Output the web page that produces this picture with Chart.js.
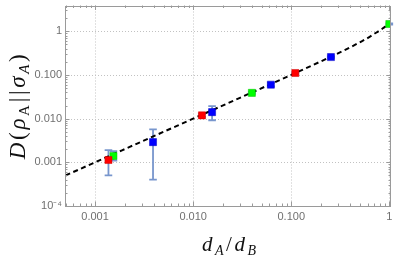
<!DOCTYPE html>
<html><head><meta charset="utf-8">
<script src="https://cdn.jsdelivr.net/npm/chart.js@4"></script>
<style>html,body{margin:0;padding:0;background:#fff}canvas{display:block}</style>
</head><body>
<canvas id="c" width="399" height="260"></canvas>
<script>
// ---- data ----
const redX = [0.00137, 0.0123, 0.11];
const redY = [0.00113, 0.0119, 0.111];
const redLo = [0.0005, 0.0110, 0.106];
const redHi = [0.0019, 0.0129, 0.116];
const greenX = [0.00154, 0.0397, 1.0];
const greenY = [0.0014, 0.039, 1.47];
const greenLo = [0.0011, 0.037, 1.42];
const greenHi = [0.0018, 0.041, 1.52];
const blueX = [0.0039, 0.0156, 0.062, 0.254];
const blueY = [0.0029, 0.0141, 0.060, 0.257];
const blueLo = [0.0004, 0.0092, 0.055, 0.247];
const blueHi = [0.0057, 0.0193, 0.066, 0.267];
const curveX = [0.0005, 0.001, 0.003, 0.01, 0.03, 0.1, 0.25, 0.4, 0.5, 0.6, 0.7, 0.8, 0.9, 1.0];
const curveY = [0.0005, 0.001, 0.003, 0.01, 0.03, 0.1005, 0.258, 0.43, 0.56, 0.70, 0.87, 1.05, 1.26, 1.47];
const xTickValues = [0.001, 0.01, 0.1, 1];
const xTickLabels = ['0.001', '0.010', '0.100', '1'];
const yTickValues = [0.0001, 0.001, 0.01, 0.1, 1];
const yTickLabels = ['10\u207B\u2074', '0.001', '0.010', '0.100', '1'];
const xRange = [0.000494, 1.04];
const yRange = [0.0001, 3.9];

const toPts = (xs, ys) => xs.map((v, i) => ({x: v, y: ys[i]}));

const errSeries = [
  {X: redX, lo: redLo, hi: redHi},
  {X: greenX, lo: greenLo, hi: greenHi},
  {X: blueX, lo: blueLo, hi: blueHi}
];

const decorPlugin = {
  id: 'decor',
  beforeDatasetsDraw(chart) {
    const {ctx, chartArea: a, scales: {x, y}} = chart;
    ctx.save();
    ctx.strokeStyle = '#c2c2c2';
    ctx.lineWidth = 1;
    ctx.setLineDash([1, 2]);
    xTickValues.forEach(v => {
      const px = Math.round(x.getPixelForValue(v)) + 0.5;
      ctx.beginPath(); ctx.moveTo(px, a.top); ctx.lineTo(px, a.bottom); ctx.stroke();
    });
    yTickValues.forEach(v => {
      const py = Math.round(y.getPixelForValue(v)) + 0.5;
      ctx.beginPath(); ctx.moveTo(a.left, py); ctx.lineTo(a.right, py); ctx.stroke();
    });
    ctx.setLineDash([]);
    // error bars
    ctx.strokeStyle = 'rgb(120,150,205)';
    ctx.lineWidth = 1.8;
    errSeries.forEach(s => {
      s.X.forEach((xv, i) => {
        const px = x.getPixelForValue(xv);
        const t = y.getPixelForValue(s.hi[i]);
        const b = y.getPixelForValue(s.lo[i]);
        ctx.beginPath();
        ctx.moveTo(px, t); ctx.lineTo(px, b);
        ctx.moveTo(px - 3.8, t); ctx.lineTo(px + 3.8, t);
        ctx.moveTo(px - 3.8, b); ctx.lineTo(px + 3.8, b);
        ctx.stroke();
      });
    });
    ctx.restore();
  },
  afterDraw(chart) {
    const {ctx, chartArea: a, scales: {x, y}} = chart;
    ctx.save();
    ctx.strokeStyle = '#9a9a9a';
    ctx.lineWidth = 1;
    // ticks
    for (let d = -5; d <= 1; d++) {
      for (let m = 1; m <= 9; m++) {
        const v = m * Math.pow(10, d);
        const len = m === 1 ? 4.5 : 2.5;
        if (v >= xRange[0] && v <= xRange[1]) {
          const px = Math.round(x.getPixelForValue(v)) + 0.5;
          ctx.beginPath();
          ctx.moveTo(px, a.bottom); ctx.lineTo(px, a.bottom - len);
          ctx.moveTo(px, a.top); ctx.lineTo(px, a.top + len);
          ctx.stroke();
        }
        if (v >= yRange[0] && v <= yRange[1]) {
          const py = Math.round(y.getPixelForValue(v)) + 0.5;
          ctx.beginPath();
          ctx.moveTo(a.left, py); ctx.lineTo(a.left + len, py);
          ctx.moveTo(a.right, py); ctx.lineTo(a.right - len, py);
          ctx.stroke();
        }
      }
    }
    ctx.strokeRect(Math.round(a.left) + 0.5, Math.round(a.top) + 0.5,
                   Math.round(a.right - a.left) - 1, Math.round(a.bottom - a.top) - 1);

    // axis titles
    function drawParts(parts, target) {
      let widths = parts.map(p => { ctx.font = p.f; return ctx.measureText(p.t).width; });
      const nat = widths.reduce((s, w) => s + w, 0);
      const gap = Math.max(0, (target - nat) / (parts.length - 1));
      let cx = -target / 2;
      parts.forEach((p, i) => {
        ctx.font = p.f;
        ctx.fillText(p.t, cx, p.dy || 0);
        cx += widths[i] + gap;
      });
    }
    ctx.fillStyle = '#111';
    ctx.textBaseline = 'alphabetic';
    ctx.textAlign = 'left';
    // x title
    const xb = 'italic 21px "Liberation Serif"';
    const xbR = '21px "Liberation Serif"';
    const xs = 'italic 14px "Liberation Serif"';
    ctx.save();
    ctx.translate((a.left + a.right) / 2 + 1, 251);
    drawParts([
      {t: 'd', f: xb}, {t: 'A', f: xs, dy: 4},
      {t: '/', f: xbR},
      {t: 'd', f: xb}, {t: 'B', f: xs, dy: 4}
    ], 54);
    ctx.restore();
    // y title
    const yb = 'italic 23px "Liberation Serif"';
    const ybR = '23px "Liberation Serif"';
    const ys = 'italic 15px "Liberation Serif"';
    const ysR = '15px "Liberation Serif"';
    ctx.save();
    ctx.translate(25, (a.top + a.bottom) / 2 + 1);
    ctx.rotate(-Math.PI / 2);
    drawParts([
      {t: 'D', f: yb}, {t: '(', f: ybR}, {t: '\u03C1', f: yb}, {t: 'A', f: ysR, dy: 4},
      {t: '|', f: ybR}, {t: '|', f: ybR},
      {t: '\u03C3', f: yb}, {t: 'A', f: ys, dy: 4}, {t: ')', f: ybR}
    ], 105);
    ctx.restore();
    ctx.restore();
  }
};

const tickFont = {family: '"Liberation Sans", Arial, sans-serif', size: 11};

new Chart(document.getElementById('c'), {
  data: {
    datasets: [
      {type: 'line', data: toPts(curveX, curveY), borderColor: '#000', borderWidth: 2,
       borderDash: [5, 3.5], pointRadius: 0, fill: false, cubicInterpolationMode: 'monotone', order: 10},
      {type: 'scatter', data: toPts(redX, redY), pointStyle: 'rect', pointRadius: 5,
       backgroundColor: '#ff0000', borderColor: '#d00000', borderWidth: 0.5, order: 1},
      {type: 'scatter', data: toPts(greenX, greenY), pointStyle: 'rect', pointRadius: 5,
       backgroundColor: '#00ff00', borderColor: '#00c000', borderWidth: 0.5, order: 1},
      {type: 'scatter', data: toPts(blueX, blueY), pointStyle: 'rect', pointRadius: 5,
       backgroundColor: '#0000ff', borderColor: '#0000c0', borderWidth: 0.5, order: 1}
    ]
  },
  options: {
    responsive: false,
    animation: false,
    devicePixelRatio: 1,
    layout: {padding: {left: 0, right: 8, top: 4, bottom: 0}},
    plugins: {legend: {display: false}, tooltip: {enabled: false}},
    scales: {
      x: {
        type: 'logarithmic', min: xRange[0], max: xRange[1],
        grid: {display: false, drawTicks: false},
        border: {display: false},
        afterBuildTicks: s => { s.ticks = xTickValues.map(v => ({value: v})); },
        afterFit: s => { s.height = 54; s.paddingLeft = 0; s.paddingRight = 0; s.paddingTop = 0; s.paddingBottom = 0; },
        ticks: {
          autoSkip: false, maxRotation: 0, padding: 4, color: '#707070', font: tickFont,
          callback: v => { const i = xTickValues.indexOf(v); return i >= 0 ? xTickLabels[i] : ''; }
        }
      },
      y: {
        type: 'logarithmic', min: yRange[0], max: yRange[1],
        grid: {display: false, drawTicks: false},
        border: {display: false},
        afterBuildTicks: s => { s.ticks = yTickValues.map(v => ({value: v})); },
        afterFit: s => { s.width = 65; s.paddingLeft = 0; s.paddingRight = 0; s.paddingTop = 0; s.paddingBottom = 0; },
        ticks: {
          autoSkip: false, padding: 3, color: '#707070', font: tickFont,
          callback: v => { const i = yTickValues.indexOf(v); return i >= 0 ? yTickLabels[i] : ''; }
        }
      }
    }
  },
  plugins: [decorPlugin]
});
</script>
</body></html>
